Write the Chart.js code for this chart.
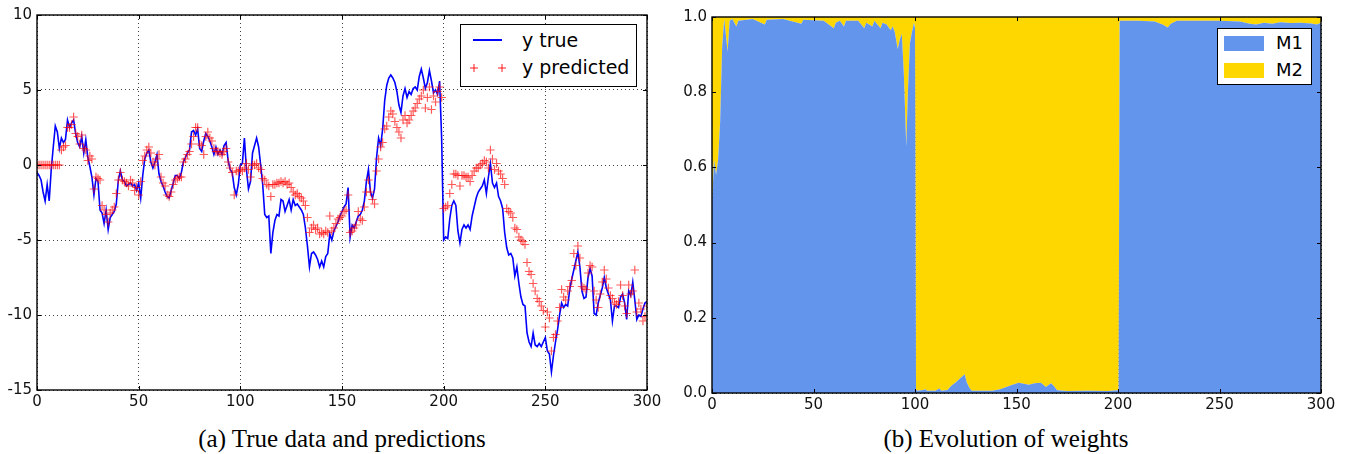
<!DOCTYPE html>
<html>
<head>
<meta charset="utf-8">
<script src="https://cdn.jsdelivr.net/npm/chart.js@4.4.1/dist/chart.umd.min.js"></script>
<style>
  body { margin: 0; background: #fff; width: 1349px; height: 454px; position: relative; overflow: hidden; font-family: "DejaVu Sans", sans-serif; }
  canvas { position: absolute; top: 0; }
  #chartA { left: 0; }
  #chartB { left: 660px; }
  .caption { position: absolute; top: 424px; width: 400px; height: 30px; line-height: 30px; text-align: center; font-family: "Liberation Serif", serif; font-size: 25px; color: #000; }
  .legend { position: absolute; background: #fff; border: 1.5px solid #000; box-sizing: border-box; }
  .legend .item { position: absolute; height: 24px; line-height: 24px; color: #000; white-space: nowrap; }
  .legend .patch { position: absolute; width: 40px; height: 15px; }
</style>
</head>
<body>
<canvas id="chartA" width="665" height="412"></canvas>
<canvas id="chartB" width="689" height="415"></canvas>

<div class="legend" style="left:460px; top:24px; width:177px; height:63px;">
  <div style="position:absolute; left:12px; top:14px; width:29px; height:2px; background:#0000ff;"></div>
  <div class="item" style="left:61px; top:3px; font-size:19px;">y true</div>
  <svg style="position:absolute; left:8px; top:38px;" width="40" height="10">
    <g stroke="rgba(255,0,0,0.75)" stroke-width="1.2">
      <line x1="1" y1="5" x2="9" y2="5"/><line x1="5" y1="1" x2="5" y2="9"/>
      <line x1="29" y1="5" x2="37" y2="5"/><line x1="33" y1="1" x2="33" y2="9"/>
    </g>
  </svg>
  <div class="item" style="left:61px; top:30px; font-size:19px;">y predicted</div>
</div>

<div class="legend" style="left:1217px; top:28px; width:95px; height:57px;">
  <div class="patch" style="left:6px; top:7px; background:#6495ed;"></div>
  <div class="item" style="left:58px; top:2px; font-size:18px;">M1</div>
  <div class="patch" style="left:6px; top:34px; background:#ffd700;"></div>
  <div class="item" style="left:58px; top:29px; font-size:18px;">M2</div>
</div>

<div class="caption" style="left:142px;">(a) True data and predictions</div>
<div class="caption" style="left:806px;">(b) Evolution of weights</div>

<script>
// Time steps of the left panel (0..300)
const steps = Array.from({ length: 301 }, (_, i) => i);

// Left panel: observed series
const yTrue = [
  -0.5, -0.7, -1.0, -1.8, -2.4, -1.3, -2.4, -0.3, 1.2, 2.6,
  2.2, 1.1, 1.8, 1.5, 1.7, 3.0, 2.5, 2.8, 3.0, 2.1,
  1.5, 1.2, 1.9, 0.8, 1.7, 0.5, -0.1, -0.8, -2.0, -0.9,
  -1.1, -3.0, -3.2, -3.9, -3.0, -4.3, -3.5, -3.3, -3.1, -2.6,
  -1.0, -0.4, -1.0, -1.1, -1.4, -1.3, -1.2, -1.4, -1.3, -1.7,
  -1.2, -2.2, -0.7, 0.4, 0.8, 1.0, 0.2, -0.2, 0.2, 0.7,
  -0.6, -1.1, -1.4, -1.8, -2.1, -2.2, -1.7, -1.2, -0.7, -0.7,
  -0.9, -0.5, 0.2, 0.5, 0.8, 1.0, 2.2, 2.3, 2.0, 2.4,
  1.1, 0.9, 1.6, 2.1, 1.9, 1.6, 1.2, 0.7, 1.2, 0.7,
  1.0, 0.7, 1.3, 1.5, 0.3, -0.3, -0.5, -1.5, -2.0, -1.3,
  0.0, 0.1, 1.8, -0.3, -1.6, -1.1, 0.8, 1.3, 1.8, 1.2,
  0.0, -1.3, -3.3, -3.5, -3.4, -5.9, -4.5, -3.7, -3.3, -3.4,
  -2.3, -2.4, -3.1, -2.7, -2.3, -3.0, -2.3, -2.7, -2.6, -2.8,
  -3.0, -3.3, -4.2, -5.4, -6.8, -5.9, -5.8, -6.0, -6.3, -6.8,
  -6.4, -6.8, -6.1, -5.9, -4.6, -5.0, -4.4, -4.1, -3.8, -3.4,
  -3.1, -2.8, -2.6, -1.5, -4.8, -4.0, -4.2, -3.8, -3.4, -3.3,
  -3.0, -2.4, -1.1, -0.3, -1.8, -2.2, -1.6, 0.5, 1.8, 1.3,
  2.4, 4.3, 5.3, 5.8, 6.0, 5.8, 5.5, 4.9, 4.0, 3.5,
  4.6, 5.1, 4.5, 4.9, 4.7, 5.1, 5.2, 5.0, 5.9, 6.4,
  5.8, 5.1, 5.5, 6.3, 5.6, 4.8, 5.0, 4.7, 5.6, 1.8,
  -5.0, -4.8, -4.9, -3.6, -2.7, -2.4, -2.7, -4.4, -5.2, -4.3,
  -4.0, -4.2, -4.0, -4.3, -3.4, -2.8, -2.2, -1.8, -1.6, -1.4,
  -1.0, -1.9, -0.8, 0.1, -1.2, -1.5, -1.2, -2.1, -2.4, -2.9,
  -4.5, -5.5, -6.0, -5.9, -6.2, -7.4, -6.8, -7.9, -8.8, -9.3,
  -9.4, -11.2, -11.8, -12.1, -11.2, -12.0, -12.1, -11.9, -12.1, -11.8,
  -11.5, -12.4, -12.6, -13.8, -12.7, -11.8, -11.0, -10.0, -9.2, -9.5,
  -9.3, -9.4, -8.3, -7.6, -7.0, -6.4, -5.8, -6.8, -8.4, -8.9,
  -8.8, -7.5, -6.9, -7.4, -9.9, -10.0, -9.2, -8.7, -8.2, -7.5,
  -8.2, -8.6, -9.0, -10.4, -9.4, -9.4, -9.5, -8.8, -8.6, -9.2,
  -10.3, -8.4, -8.7, -7.8, -9.0, -10.3, -10.0, -10.1, -9.6, -9.2,
  -9.1
];

// Left panel: predicted series
const yPredicted = [
  0, 0, 0, 0, 0, 0, 0, 0, 0, 0,
  0, 0, 1.0, 1.2, 1.3, 2.5, 2.5, 2.7, 3.2, 2.1,
  1.9, 1.4, 2.0, 1.1, 1.0, 0.3, 0.6, 0.4, -1.6, -0.8,
  -0.9, -1.0, -2.7, -3.0, -3.3, -3.8, -3.2, -3.0, -2.8, -1.9,
  -1.0, -0.5, -1.0, -1.1, -1.2, -1.4, -1.0, -1.2, -1.7, -1.5,
  -2.0, -1.1, 0.3, 0.6, 1.0, 1.2, 0.8, 0.2, 0.0, 0.4,
  0.7, -0.8, -1.2, -1.4, -2.0, -2.1, -1.8, -1.3, -1.0, -0.9,
  -0.8, -0.8, 0.2, 0.4, 0.7, 0.9, 1.4, 1.9, 2.5, 2.5,
  1.4, 1.3, 0.7, 1.9, 2.2, 1.8, 1.6, 1.1, 0.9, 0.9,
  0.8, 0.7, 0.9, 1.1, 0.2, -0.2, -0.5, -2.0, -0.4, -0.4,
  -0.3, -0.4, -0.2, 0.1, -0.3, -0.8, 0.0, 0.0, 0.1, -0.2,
  -0.3, -0.9, -1.0, -1.3, -1.4, -2.1, -1.3, -1.3, -1.2, -1.2,
  -1.1, -1.2, -1.1, -1.3, -1.2, -1.5, -1.8, -2.0, -1.9, -2.1,
  -2.2, -2.4, -2.7, -3.5, -4.5, -4.2, -4.0, -4.3, -4.2, -4.6,
  -4.5, -4.6, -4.4, -4.5, -3.4, -4.4, -4.2, -3.9, -3.6, -3.5,
  -3.4, -3.1, -3.0, -2.0, -4.5, -4.4, -4.2, -4.0, -3.1, -3.6,
  -3.7, -2.8, -1.8, -1.0, -1.8, -2.3, -2.6, -0.4, 0.4, 1.2,
  1.5, 2.4, 2.6, 3.2, 3.6, 3.4, 2.9, 2.5, 2.2, 1.8,
  3.0, 3.3, 2.8, 3.0, 3.3, 3.6, 3.8, 4.1, 4.4, 4.6,
  5.0, 3.8, 4.5, 5.2, 3.7, 4.6, 4.2, 4.9, 5.2, 4.5,
  -2.9, -2.8, -2.7, -1.9, -1.3, -0.6, -0.6, -0.7, -1.4, -0.7,
  -0.7, -0.8, -0.8, -1.1, -0.7, -0.4, -0.2, -0.2, 0.0, 0.1,
  0.3, 0.2, -0.2, 1.0, 0.4, -0.3, 0.1, -0.4, -0.6, -0.9,
  -1.3, -2.9, -3.1, -3.2, -3.5, -4.2, -4.3, -4.8, -5.0, -5.1,
  -5.3, -6.5, -7.1, -7.3, -7.9, -8.4, -8.9, -9.1, -9.4, -9.7,
  -10.8, -9.8, -10.2, -12.4, -11.5, -11.3, -10.4, -9.5, -8.3, -8.8,
  -9.0, -8.4, -8.1, -7.7, -5.9, -6.7, -5.4, -6.2, -8.1, -8.2,
  -8.3, -7.2, -6.7, -6.8, -8.4, -9.0, -9.5, -8.6, -7.8, -7.0,
  -7.6, -8.2, -8.7, -8.9, -9.2, -9.3, -9.1, -8.0, -8.7, -9.4,
  -9.9, -8.0, -8.6, -8.4, -7.0, -9.8, -9.2, -9.6, -10.4, -10.1,
  -9.4
];

// Right panel: weight of each model over time
const weightSteps = [
  0, 1, 2, 3, 4, 5, 6, 7.7, 8.7, 10, 12, 13, 20, 26, 27, 35, 44, 45, 55, 60,
  61, 63, 65, 66, 72, 75, 76, 79, 80, 83, 84, 86, 88, 89, 90, 91.5, 92.5, 93.5, 94.5, 95.7,
  96.5, 97.5, 98.5, 99.5, 100, 100.5, 101, 104, 105, 106, 110, 112, 113, 116, 118, 120, 122, 124.5, 125.5, 127,
  128, 138, 142, 145, 148, 151, 153, 156, 159, 162, 164.5, 167, 168.5, 170, 175, 185, 195, 200.3, 200.8, 201,
  210, 218, 222, 224.5, 226, 229, 240, 250, 260, 265, 268, 272, 276, 280, 285, 290, 295, 298, 300
];
const weightM1 = [
  0.50, 0.62, 0.58, 0.62, 0.72, 0.92, 0.995, 0.908, 0.99, 0.995, 0.975, 0.99, 0.995, 0.98, 0.993, 0.995, 0.982, 0.993, 0.99, 0.97,
  0.985, 0.99, 0.975, 0.99, 0.99, 0.97, 0.985, 0.975, 0.99, 0.97, 0.985, 0.98, 0.965, 0.975, 0.96, 0.915, 0.94, 0.955, 0.85, 0.655,
  0.80, 0.93, 0.96, 0.985, 0.97, 0.01, 0.006, 0.008, 0.01, 0.006, 0.006, 0.012, 0.006, 0.008, 0.02, 0.028, 0.038, 0.05, 0.028, 0.012,
  0.006, 0.006, 0.01, 0.016, 0.022, 0.027, 0.025, 0.022, 0.026, 0.027, 0.016, 0.026, 0.018, 0.007, 0.005, 0.006, 0.005, 0.007, 0.985, 0.99,
  0.99, 0.988, 0.98, 0.972, 0.982, 0.99, 0.99, 0.99, 0.988, 0.982, 0.98, 0.985, 0.982, 0.986, 0.984, 0.985, 0.983, 0.98, 0.985
];
const weightM2 = [
  0.50, 0.38, 0.42, 0.38, 0.28, 0.08, 0.005, 0.092, 0.01, 0.005, 0.025, 0.01, 0.005, 0.02, 0.007, 0.005, 0.018, 0.007, 0.01, 0.03,
  0.015, 0.01, 0.025, 0.01, 0.01, 0.03, 0.015, 0.025, 0.01, 0.03, 0.015, 0.02, 0.035, 0.025, 0.04, 0.085, 0.06, 0.045, 0.15, 0.345,
  0.20, 0.07, 0.04, 0.015, 0.03, 0.99, 0.994, 0.992, 0.99, 0.994, 0.994, 0.988, 0.994, 0.992, 0.98, 0.972, 0.962, 0.95, 0.972, 0.988,
  0.994, 0.994, 0.99, 0.984, 0.978, 0.973, 0.975, 0.978, 0.974, 0.973, 0.984, 0.974, 0.982, 0.993, 0.995, 0.994, 0.995, 0.993, 0.015, 0.01,
  0.01, 0.012, 0.02, 0.028, 0.018, 0.01, 0.01, 0.01, 0.012, 0.018, 0.02, 0.015, 0.018, 0.014, 0.016, 0.015, 0.017, 0.02, 0.015
];

// Tick labels
const xTicks = [0, 50, 100, 150, 200, 250, 300];
const yTicksA = [-15, -10, -5, 0, 5, 10];
const yTicksB = [0, 0.2, 0.4, 0.6, 0.8, 1.0];

const tickFont = { family: "DejaVu Sans", size: 15 };

// matplotlib style box with inward ticks on all four sides
const framePlugin = {
  id: "frame",
  afterDraw(chart) {
    const { ctx, chartArea: a, scales } = chart;
    ctx.save();
    ctx.strokeStyle = "#000";
    ctx.lineWidth = 1;
    scales.x.ticks.forEach((t) => {
      const px = Math.round(scales.x.getPixelForValue(t.value)) + 0.5;
      ctx.beginPath();
      ctx.moveTo(px, a.bottom); ctx.lineTo(px, a.bottom - 4);
      ctx.moveTo(px, a.top); ctx.lineTo(px, a.top + 4);
      ctx.stroke();
    });
    scales.y.ticks.forEach((t) => {
      const py = Math.round(scales.y.getPixelForValue(t.value)) + 0.5;
      ctx.beginPath();
      ctx.moveTo(a.left, py); ctx.lineTo(a.left + 4, py);
      ctx.moveTo(a.right, py); ctx.lineTo(a.right - 4, py);
      ctx.stroke();
    });
    ctx.lineWidth = 1.4;
    ctx.strokeRect(a.left, a.top, a.right - a.left, a.bottom - a.top);
    ctx.restore();
  },
};

function axisOptions(ticks, min, max, fixedSize, isX, fmt) {
  return {
    type: "linear",
    min: min,
    max: max,
    z: 1,
    afterBuildTicks: (scale) => { scale.ticks = ticks.map((v) => ({ value: v })); },
    afterFit: (scale) => {
      if (isX) scale.height = fixedSize; else scale.width = fixedSize;
    },
    grid: { color: "rgba(0,0,0,0.75)", lineWidth: 1, drawTicks: false },
    border: { display: false, dash: [1, 3] },
    ticks: {
      font: tickFont,
      color: "#111",
      padding: isX ? 3 : 5,
      maxRotation: 0,
      autoSkip: false,
      callback: fmt || ((v) => String(v)),
    },
  };
}

// Left panel: true data and predictions
new Chart(document.getElementById("chartA"), {
  type: "scatter",
  data: {
    datasets: [
      {
        label: "y predicted",
        data: steps.map((t, i) => ({ x: t, y: yPredicted[i] })),
        showLine: false,
        pointStyle: "cross",
        pointRadius: 4.2,
        borderColor: "rgba(255,0,0,0.65)",
        backgroundColor: "rgba(255,0,0,0.65)",
        borderWidth: 1.2,
      },
      {
        label: "y true",
        data: steps.map((t, i) => ({ x: t, y: yTrue[i] })),
        showLine: true,
        borderColor: "#0000ff",
        borderWidth: 1.6,
        pointRadius: 0,
        tension: 0,
      },
    ],
  },
  options: {
    responsive: false,
    animation: false,
    layout: { padding: { top: 15, right: 18, bottom: 0, left: 0 } },
    plugins: { legend: { display: false }, tooltip: { enabled: false } },
    scales: {
      x: axisOptions(xTicks, 0, 300, 22, true),
      y: axisOptions(yTicksA, -15, 10, 37, false),
    },
  },
  plugins: [framePlugin],
});

// Right panel: evolution of weights (stacked areas)
new Chart(document.getElementById("chartB"), {
  type: "line",
  data: {
    datasets: [
      {
        label: "M1",
        data: weightSteps.map((t, i) => ({ x: t, y: weightM1[i] })),
        backgroundColor: "#6495ed",
        borderColor: "#6495ed",
        borderWidth: 0,
        pointRadius: 0,
        fill: "origin",
        tension: 0,
      },
      {
        label: "M2",
        data: weightSteps.map((t, i) => ({ x: t, y: weightM2[i] })),
        backgroundColor: "#ffd700",
        borderColor: "#ffd700",
        borderWidth: 0,
        pointRadius: 0,
        fill: "-1",
        tension: 0,
      },
    ],
  },
  options: {
    responsive: false,
    animation: false,
    layout: { padding: { top: 17, right: 28, bottom: 0, left: 0 } },
    plugins: { legend: { display: false }, tooltip: { enabled: false } },
    scales: {
      x: axisOptions(xTicks, 0, 300, 22, true),
      y: Object.assign(axisOptions(yTicksB, 0, 1, 52, false, (v) => Number(v).toFixed(1)), { stacked: true }),
    },
  },
  plugins: [framePlugin],
});
</script>
</body>
</html>
